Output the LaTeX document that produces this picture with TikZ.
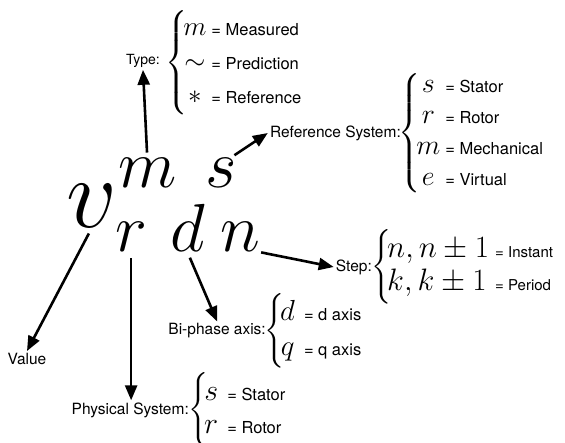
\RequirePackage{fix-cm}
\documentclass[tikz,border=0pt]{standalone}
\usepackage{amsmath}
\usepackage[no-math]{fontspec}
\usepackage{tikz}
\usetikzlibrary{
    arrows.meta,
    positioning
}
\newfontfamily\helv{TeX Gyre Heros}
\newcommand{\lblfont}{\helv\fontsize{15.5}{18}\selectfont}
\newcommand{\eqlabel}[2][16.5]{\text{\helv\fontsize{#1}{18}\selectfont = #2}}
\tikzset{
    line cap=round,
    line join=round,
    pointer/.style={
        -{Triangle[length=15pt, width=12pt]},
        draw=black,
        line width=2.6pt,
        shorten <=6pt
    },
    bigvar/.style={
        font=\fontsize{100}{100}\selectfont,
        inner sep=0pt,
        anchor=base west
    },
    subvar/.style={
        font=\fontsize{68}{68}\selectfont,
        inner sep=0pt,
        anchor=base west
    },
    tag/.style={
        font=\lblfont,
        inner sep=2pt
    },
    choices/.style={
        font=\fontsize{#1}{#1}\selectfont,
        inner sep=0pt
    },
    rowgap/.style={
        execute at begin node={\renewcommand{\arraystretch}{#1}}
    }
}

\begin{document}
\begin{tikzpicture}[x=1pt, y=-1pt]
\useasboundingbox (0,0) rectangle (565,443);

% Main symbol
\node[bigvar] (v) at (66,228) {$v$};
\node[subvar] (m) at (118,188) {$m$};
\node[subvar] (s) at (205,188) {$s$};
\node[subvar] (r) at (115,252) {$r$};
\node[subvar] (d) at (170,252) {$d$};
\node[subvar] (n) at (220,252) {$n$};

% === TYPE ===
\node[tag, anchor=east, font=\helv\fontsize{14}{16}\selectfont] (type) at (162,61) {Type:};
\node[choices=27pt, rowgap=1.26, right=3pt of type, yshift=-2pt,
      execute at begin node={\delimitershortfall=20pt}] (typeset)
    {$\left\{\begin{array}{@{\hspace{-4pt}}c@{\hspace{5pt}}l@{}}
        m & \eqlabel{Measured}\\
        \sim & \eqlabel{Prediction}\\
        \ast & \eqlabel{Reference}
    \end{array}\right.$};
\draw[pointer] (m.north) -- (type.south);

% === REFERENCE SYSTEM ===
\node[tag, anchor=east] (refsys) at (403,133) {Reference System:};
\node[choices=28pt, rowgap=1.1, right=-5pt of refsys] (refset)
    {$\left\{\begin{array}{@{\hspace{-4pt}}c@{\hspace{5pt}}l@{}}
        s & \eqlabel{Stator}\\
        r & \eqlabel{Rotor}\\
        m & \eqlabel{Mechanical}\\
        e & \eqlabel{Virtual}
    \end{array}\right.$};
\draw[pointer] (s.60) -- (refsys.west);

% === STEP ===
\node[tag, anchor=east] (step) at (374,267) {Step:};
\node[choices=31pt, rowgap=1.06, right=-3pt of step] (stepset)
    {$\left\{\begin{array}{@{\hspace{-4pt}}l@{\hspace{6pt}}l@{}}
        n, n \pm 1 & \eqlabel[15]{Instant}\\
        k, k \pm 1 & \eqlabel[15]{Period}
    \end{array}\right.$};
\draw[pointer, shorten <=1pt] (n.south east) -- (step.west);

% === VALUE ===
\node[tag] (value) at (27,359) {Value};
\draw[pointer] (v.south) -- (value.north);

% === PHYSICAL SYSTEM ===
\node[tag, anchor=east] (physical) at (191,410) {Physical System:};
\node[choices=30pt, rowgap=1.1, right=-3pt of physical] (physset)
    {$\left\{\begin{array}{@{\hspace{-4pt}}c@{\hspace{9pt}}l@{}}
        s & \eqlabel{Stator}\\
        r & \eqlabel{Rotor}
    \end{array}\right.$};
\draw[pointer] (r.south) -- (r.south |- physical.north);

% === BI-PHASE AXIS ===
\node[tag, anchor=east] (biphase) at (268,331) {Bi-phase axis:};
\node[choices=29pt, rowgap=1.2, right=-4pt of biphase] (biset)
    {$\left\{\begin{array}{@{\hspace{-4pt}}c@{\hspace{9pt}}l@{}}
        d & \eqlabel{d axis}\\
        q & \eqlabel{q axis}
    \end{array}\right.$};
\draw[pointer] (d.south) -- (biphase.north);

\end{tikzpicture}
\end{document}
